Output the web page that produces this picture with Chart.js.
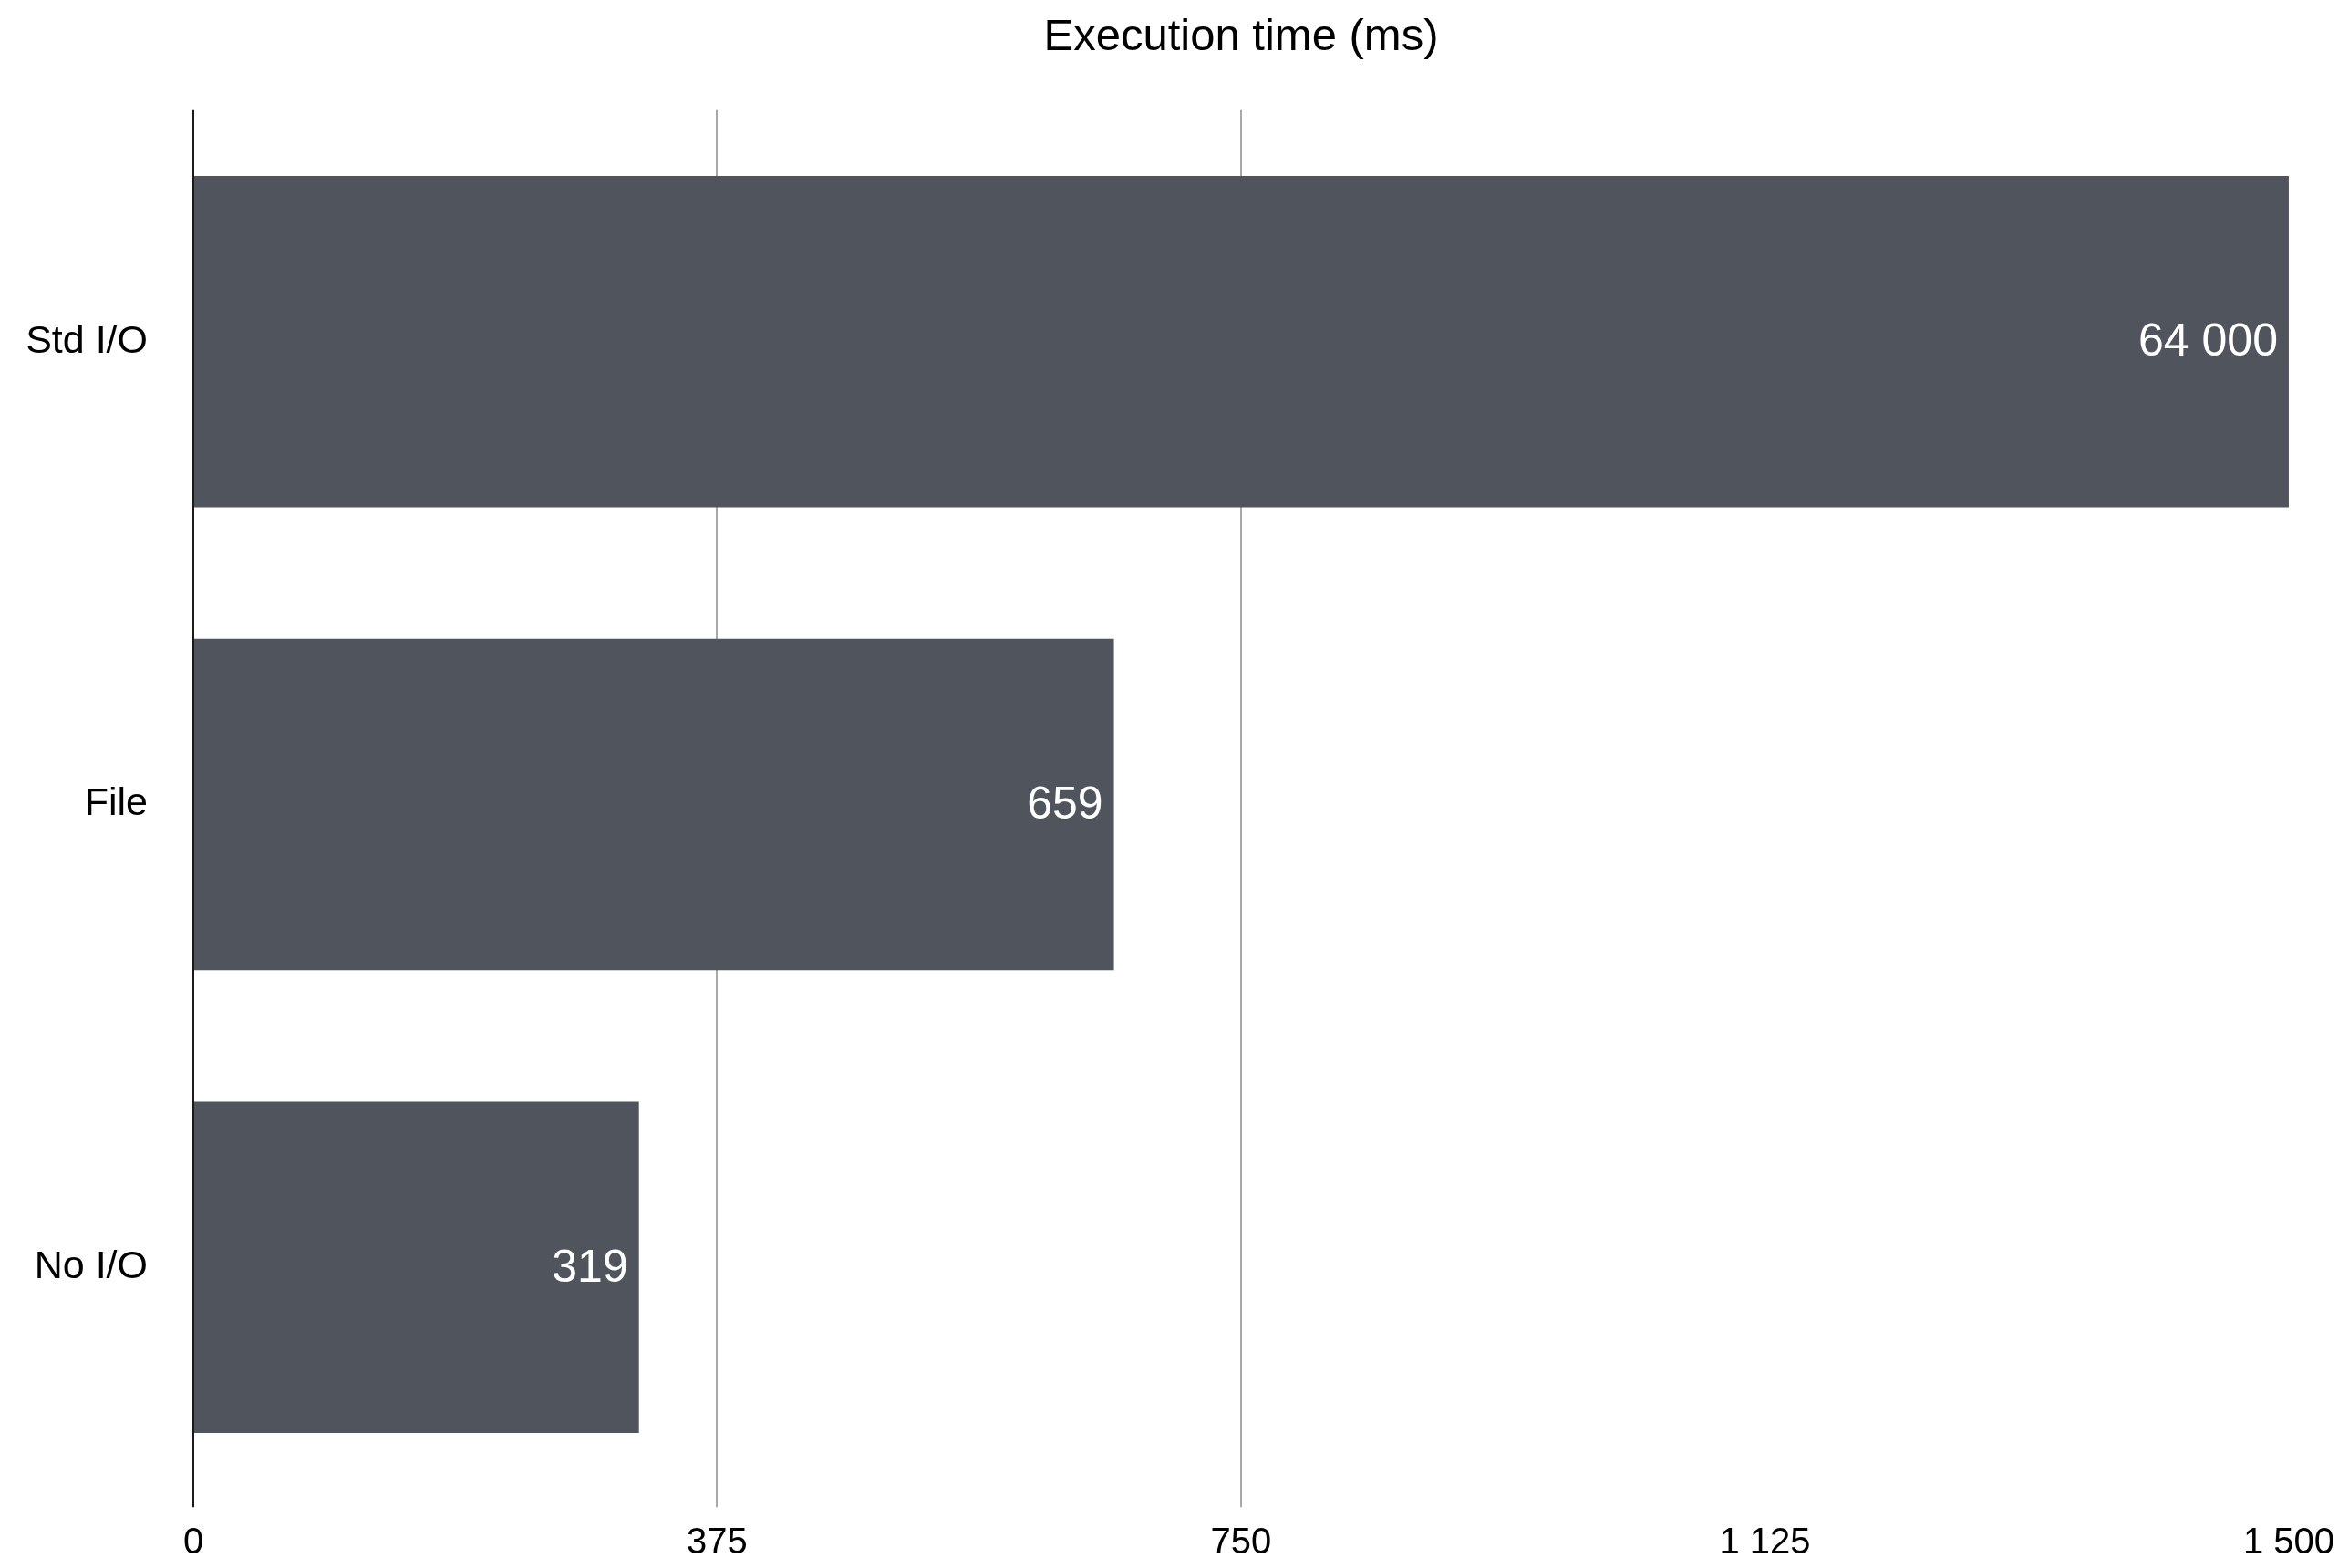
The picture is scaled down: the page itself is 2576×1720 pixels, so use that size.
<!DOCTYPE html>
<html>
<head>
<meta charset="utf-8">
<title>Execution time</title>
<script src="https://cdn.jsdelivr.net/npm/chart.js@4"></script>
<style>
    html, body { margin: 0; padding: 0; background: #fff; }
    #wrap { width: 2576px; height: 1720px; }
</style>
</head>
<body>
<div id="wrap"><canvas id="timeChart"></canvas></div>
<script>
const categories = ['Std I/O', 'File', 'No I/O'];
const timesMs = [64000, 659, 319];
const tickValues = [0, 375, 750, 1125, 1500];
const gridShown = [375, 750];

const FONT = "'Liberation Sans', Arial, Helvetica, sans-serif";
const BAR_COLOR = '#50545c';

// group thousands with a space, like "64 000"
function spaced(v) {
    return String(v).replace(/\B(?=(\d{3})+(?!\d))/g, ' ');
}

// value labels drawn inside the bar end, in white
const barLabels = {
    id: 'barLabels',
    afterDatasetsDraw(chart) {
        const ctx = chart.ctx;
        const area = chart.chartArea;
        const meta = chart.getDatasetMeta(0);
        ctx.save();
        ctx.font = '50px ' + FONT;
        ctx.fillStyle = '#ffffff';
        ctx.textAlign = 'right';
        ctx.textBaseline = 'middle';
        meta.data.forEach((bar, i) => {
            const endX = Math.min(bar.x, area.right);
            ctx.fillText(spaced(timesMs[i]), endX - 12, bar.y + 2);
        });
        ctx.restore();
    }
};

// center the title over the plot area instead of the whole canvas
const titleOverPlot = {
    id: 'titleOverPlot',
    afterLayout(chart) {
        const tb = chart.titleBlock;
        if (!tb) return;
        tb.left = chart.chartArea.left;
        tb.right = chart.chartArea.right;
        tb.width = tb.right - tb.left;
    }
};

new Chart(document.getElementById('timeChart'), {
    type: 'bar',
    data: {
        labels: categories,
        datasets: [{
            label: 'Execution time (ms)',
            data: timesMs,
            backgroundColor: BAR_COLOR,
            borderWidth: 0,
            categoryPercentage: 1,
            barPercentage: 0.716
        }]
    },
    options: {
        indexAxis: 'y',
        responsive: true,
        maintainAspectRatio: false,
        animation: false,
        layout: {
            padding: { left: 0, right: 66, top: 0, bottom: 0 }
        },
        plugins: {
            legend: { display: false },
            tooltip: { enabled: false },
            title: {
                display: true,
                text: 'Execution time (ms)',
                color: '#000',
                font: { family: FONT, size: 49, weight: 'normal' },
                padding: { top: 12, bottom: 50 }
            }
        },
        scales: {
            x: {
                min: 0,
                max: 1500,
                afterBuildTicks: (axis) => {
                    axis.ticks = tickValues.map(v => ({ value: v }));
                },
                afterFit: (axis) => { axis.height = 64; },
                border: { display: false },
                grid: {
                    lineWidth: 2,
                    tickLength: 9,
                    color: (c) => {
                        const v = c.tick ? c.tick.value : null;
                        if (v === 0) return '#1a1a1a';
                        if (gridShown.includes(v)) return '#a9a9a9';
                        return 'rgba(0,0,0,0)';
                    }
                },
                ticks: {
                    color: '#000',
                    padding: 16,
                    maxRotation: 0,
                    font: { family: FONT, size: 40 },
                    callback: (v) => spaced(v)
                }
            },
            y: {
                afterFit: (axis) => { axis.width = 212; },
                border: { display: false },
                grid: { display: false, drawTicks: false },
                ticks: {
                    color: '#000',
                    padding: 50,
                    font: { family: FONT, size: 43 }
                }
            }
        }
    },
    plugins: [barLabels, titleOverPlot]
});
</script>
</body>
</html>
